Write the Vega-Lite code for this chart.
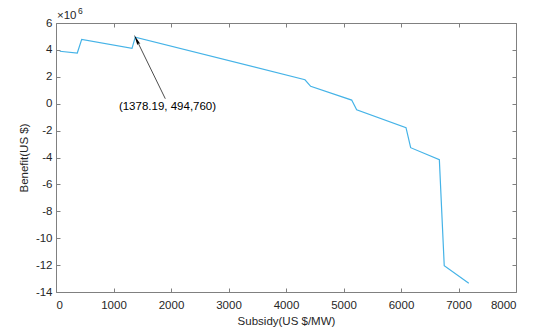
{
  "$schema": "https://vega.github.io/schema/vega-lite/v6.json",
  "width": 460,
  "height": 269,
  "autosize": {"type": "none"},
  "padding": {"left": 56, "top": 23, "right": 34, "bottom": 44},
  "background": "white",
  "config": {
    "view": {"stroke": null},
    "font": "Liberation Sans",
    "axis": {
      "domainColor": "#808080",
      "tickColor": "#808080",
      "labelColor": "#262626",
      "titleColor": "#262626",
      "labelFont": "Liberation Sans",
      "titleFont": "Liberation Sans",
      "labelFontSize": 11.5,
      "titleFontSize": 11.5,
      "titleFontWeight": "normal",
      "grid": false,
      "tickSize": -4,
      "domainWidth": 1
    }
  },
  "datasets": {
    "curve": [
      {"subsidy": 65, "benefit": 3.9},
      {"subsidy": 370, "benefit": 3.77},
      {"subsidy": 447, "benefit": 4.78},
      {"subsidy": 1322, "benefit": 4.11},
      {"subsidy": 1378.19, "benefit": 4.9476},
      {"subsidy": 4330, "benefit": 1.78},
      {"subsidy": 4429, "benefit": 1.29},
      {"subsidy": 5142, "benefit": 0.27},
      {"subsidy": 5229, "benefit": -0.45},
      {"subsidy": 6087, "benefit": -1.78},
      {"subsidy": 6168, "benefit": -3.27},
      {"subsidy": 6667, "benefit": -4.16},
      {"subsidy": 6752, "benefit": -12.05},
      {"subsidy": 7179, "benefit": -13.35}
    ],
    "arrow": [
      {"x1": 1901, "y1": 0.37, "x2": 1400, "y2": 4.76, "label": "(1378.19, 494,760)", "tx": 1939, "ty": -0.22}
    ]
  },
  "resolve": {"axis": {"x": "independent", "y": "independent"}},
  "layer": [
    {
      "data": {"name": "curve"},
      "mark": {"type": "line", "color": "#45B3E7", "strokeWidth": 1.2},
      "encoding": {
        "x": {
          "field": "subsidy", "type": "quantitative",
          "scale": {"domain": [0, 8000], "nice": false, "zero": false},
          "axis": {"orient": "bottom", "values": [0,1000,2000,3000,4000,5000,6000,7000,8000], "labelExpr": "'' + datum.value", "title": "Subsidy(US $/MW)", "labelPadding": 11, "titlePadding": 5}
        },
        "y": {
          "field": "benefit", "type": "quantitative",
          "scale": {"domain": [-14, 6], "nice": false, "zero": false},
          "axis": {"orient": "left", "values": [-14,-12,-10,-8,-6,-4,-2,0,2,4,6], "labelExpr": "'' + datum.value", "title": "Benefit(US $)", "labelPadding": 8, "titlePadding": 6}
        }
      }
    },
    {
      "data": {"name": "curve"},
      "mark": {"type": "line", "opacity": 0},
      "encoding": {
        "x": {
          "field": "subsidy", "type": "quantitative",
          "axis": {"orient": "top", "values": [0,1000,2000,3000,4000,5000,6000,7000,8000], "labels": false, "title": null}
        },
        "y": {
          "field": "benefit", "type": "quantitative",
          "axis": {"orient": "right", "values": [-14,-12,-10,-8,-6,-4,-2,0,2,4,6], "labels": false, "title": null}
        }
      }
    },
    {
      "data": {"name": "arrow"},
      "mark": {"type": "rule", "color": "#4d4d4d", "strokeWidth": 1},
      "encoding": {
        "x": {"field": "x1", "type": "quantitative", "axis": null},
        "y": {"field": "y1", "type": "quantitative", "axis": null},
        "x2": {"field": "x2"},
        "y2": {"field": "y2"}
      }
    },
    {
      "data": {"name": "arrow"},
      "mark": {"type": "point", "shape": "M0,-1L-0.3,1L0,0.7L0.3,1Z", "filled": true, "color": "black", "opacity": 1, "size": 120, "angle": -26, "strokeWidth": 0},
      "encoding": {
        "x": {"field": "x2", "type": "quantitative", "axis": null},
        "y": {"field": "y2", "type": "quantitative", "axis": null}
      }
    },
    {
      "data": {"name": "arrow"},
      "mark": {"type": "text", "fontSize": 11.5, "color": "black", "align": "center", "baseline": "middle", "font": "Liberation Sans"},
      "encoding": {
        "x": {"field": "tx", "type": "quantitative", "axis": null},
        "y": {"field": "ty", "type": "quantitative", "axis": null},
        "text": {"field": "label"}
      }
    },
    {
      "data": {"values": [{"x": 0, "y": 6, "t": "×10"}]},
      "mark": {"type": "text", "fontSize": 11.5, "color": "#262626", "align": "left", "baseline": "middle", "dx": 1, "dy": -7},
      "encoding": {
        "x": {"field": "x", "type": "quantitative", "axis": null},
        "y": {"field": "y", "type": "quantitative", "axis": null},
        "text": {"field": "t"}
      }
    },
    {
      "data": {"values": [{"x": 0, "y": 6, "t": "6"}]},
      "mark": {"type": "text", "fontSize": 8.5, "color": "#262626", "align": "left", "baseline": "middle", "dx": 22, "dy": -12},
      "encoding": {
        "x": {"field": "x", "type": "quantitative", "axis": null},
        "y": {"field": "y", "type": "quantitative", "axis": null},
        "text": {"field": "t"}
      }
    }
  ]
}
